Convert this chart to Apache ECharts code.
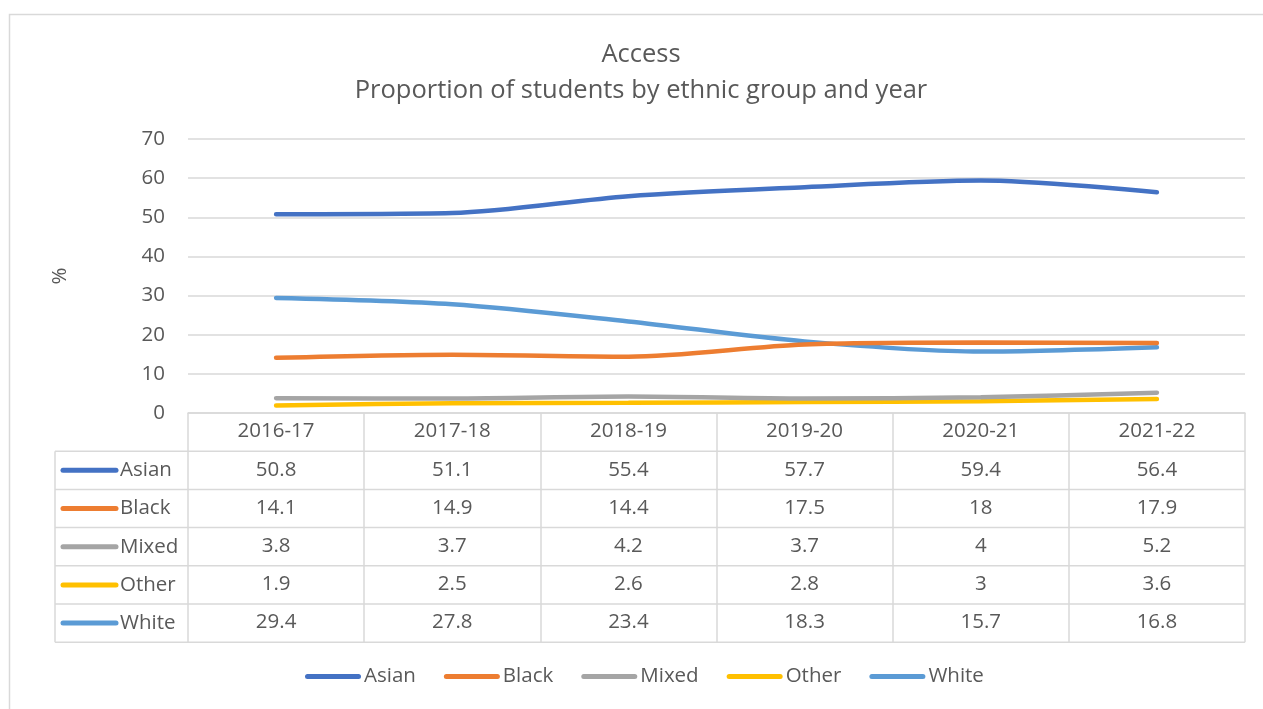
<!DOCTYPE html>
<html>
<head>
<meta charset="utf-8">
<script src="https://cdn.jsdelivr.net/npm/echarts@6/dist/echarts.min.js"></script>
<style>
  html, body { margin: 0; padding: 0; background: #fff; }
  #chart { width: 1263px; height: 709px; }
</style>
</head>
<body>
<div id="chart"></div>
<script>
  const years = ['2016-17', '2017-18', '2018-19', '2019-20', '2020-21', '2021-22']
  const groups = ['Asian', 'Black', 'Mixed', 'Other', 'White']
  const asian = [50.8, 51.1, 55.4, 57.7, 59.4, 56.4]
  const black = [14.1, 14.9, 14.4, 17.5, 18, 17.9]
  const mixed = [3.8, 3.7, 4.2, 3.7, 4, 5.2]
  const other = [1.9, 2.5, 2.6, 2.8, 3, 3.6]
  const white = [29.4, 27.8, 23.4, 18.3, 15.7, 16.8]
  const yTicks = [0, 10, 20, 30, 40, 50, 60, 70]

  const values = [asian, black, mixed, other, white]
  const colors = ['#4472C4', '#ED7D31', '#A5A5A5', '#FFC000', '#5B9BD5']
  const font = '"Open Sans", sans-serif'
  const textColor = '#595959'
  const lineGrey = '#d9d9d9'
  const fs = 20.5

  // layout of plot + table
  const plotLeft = 188
  const plotRight = 1245
  const plotTop = 139
  const plotBottom = 413
  const rowH = 38.2
  const tableLeft = 55

  const myChart = echarts.init(document.getElementById('chart'))

  const xAxes = [
    {
      type: 'category',
      data: years,
      position: 'bottom',
      axisLine: { show: true, lineStyle: { color: lineGrey, width: 1.5 } },
      axisTick: { show: true, length: rowH * 6, lineStyle: { color: lineGrey, width: 1.5 } },
      axisLabel: { color: textColor, fontSize: fs, fontFamily: font, margin: 8 },
    },
  ]
  values.forEach((vals, i) => {
    xAxes.push({
      type: 'category',
      data: vals.map(v => String(v)),
      position: 'bottom',
      offset: rowH * (i + 1),
      axisLine: { show: false },
      axisTick: { show: false },
      axisLabel: { color: textColor, fontSize: fs, fontFamily: font, margin: 8 },
    })
  })

  const graphics = [
    {
      type: 'rect',
      shape: { x: 9.5, y: 14.5, width: 1300, height: 760 },
      style: { fill: 'none', stroke: lineGrey, lineWidth: 1.5 },
      silent: true,
    },
    {
      type: 'line',
      shape: { x1: tableLeft, y1: plotBottom + rowH, x2: tableLeft, y2: plotBottom + rowH * 6 },
      style: { stroke: lineGrey, lineWidth: 1.5 },
      silent: true,
    },
  ]
  for (let r = 1; r <= 6; r++) {
    graphics.push({
      type: 'line',
      shape: { x1: tableLeft, y1: plotBottom + rowH * r, x2: plotRight, y2: plotBottom + rowH * r },
      style: { stroke: lineGrey, lineWidth: 1.5 },
      silent: true,
    })
  }
  groups.forEach((name, i) => {
    const cy = plotBottom + rowH * (i + 1.5)
    graphics.push({
      type: 'line',
      shape: { x1: 63, y1: cy, x2: 116, y2: cy },
      style: { stroke: colors[i], lineWidth: 5, lineCap: 'round' },
      silent: true,
    })
    graphics.push({
      type: 'text',
      x: 120,
      y: cy,
      style: { text: name, fill: textColor, font: fs + 'px ' + font, textVerticalAlign: 'middle' },
      silent: true,
    })
  })

  const legendIcon = 'path://M2.5,0 L53.5,0 A2.5,2.5 0 0 1 53.5,5 L2.5,5 A2.5,2.5 0 0 1 2.5,0 Z'

  const option = {
    animation: false,
    color: colors,
    title: {
      text: 'Access\nProportion of students by ethnic group and year',
      left: 636,
      top: 32,
      textAlign: 'center',
      textStyle: { color: textColor, fontSize: 25.5, fontWeight: 'normal', fontFamily: font, lineHeight: 35.5 },
    },
    legend: {
      data: groups,
      bottom: 17,
      left: 300,
      icon: legendIcon,
      itemWidth: 56,
      itemHeight: 5,
      itemGap: 28,
      textStyle: { color: textColor, fontSize: fs, fontFamily: font, padding: [0, 0, 0, -2] },
    },
    grid: {
      left: plotLeft,
      right: 1263 - plotRight,
      top: plotTop,
      bottom: 709 - plotBottom,
      containLabel: false,
    },
    xAxis: xAxes,
    yAxis: {
      type: 'value',
      min: yTicks[0],
      max: yTicks[yTicks.length - 1],
      interval: 10,
      name: '%',
      nameLocation: 'middle',
      nameRotate: 90,
      nameGap: 117,
      nameTextStyle: { color: textColor, fontSize: fs, fontFamily: font },
      axisLine: { show: false },
      axisTick: { show: false },
      axisLabel: { color: textColor, fontSize: fs, fontFamily: font, margin: 23 },
      splitLine: { lineStyle: { color: lineGrey, width: 1.5 } },
    },
    series: groups.map((name, i) => ({
      name: name,
      type: 'line',
      data: values[i],
      xAxisIndex: 0,
      smooth: 0.3,
      symbol: 'none',
      lineStyle: { width: 4.5, color: colors[i], cap: 'round' },
      itemStyle: { color: colors[i] },
      z: 10 - i,
    })),
    graphic: graphics,
  }

  myChart.setOption(option)
</script>
</body>
</html>
